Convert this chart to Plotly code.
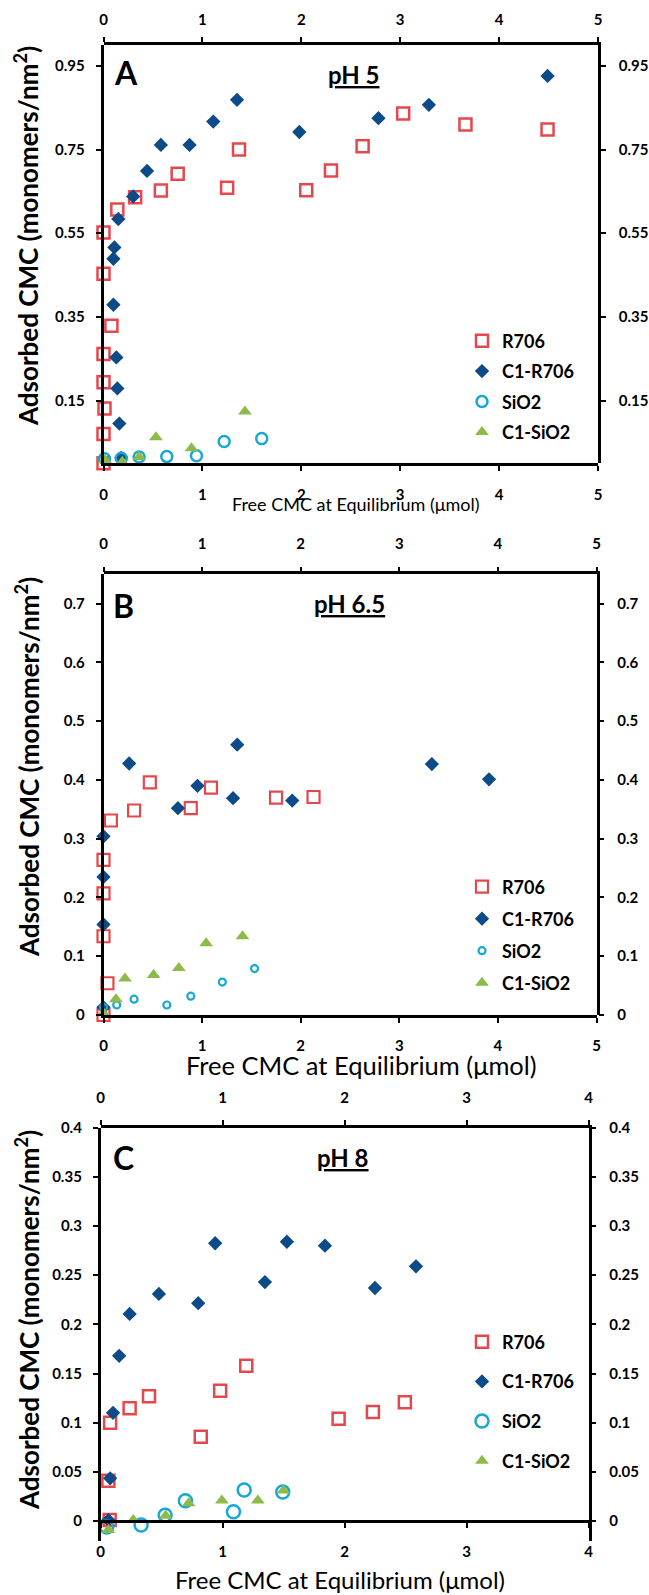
import plotly.graph_objects as go

W, H = 649, 1595
FONT = "Lato"

RED = "#E5484C"
BLUE = "#0C4A88"
CYAN = "#19A8D2"
GREEN = "#8CBB4B"

series_names = ["R706", "C1-R706", "SiO2", "C1-SiO2"]

# ---------------- Panel A (pH 5) ----------------
A_R706_x = [0.0, 0.0, 0.01, 0.0, 0.0, 0.08, 0.0, 0.0, 0.14, 0.32, 0.58, 0.75, 1.25, 1.37, 2.05, 2.30, 2.62, 3.03, 3.66, 4.49]
A_R706_y = [0.0, 0.07, 0.131, 0.194, 0.261, 0.329, 0.453, 0.552, 0.607, 0.636, 0.652, 0.692, 0.659, 0.75, 0.653, 0.70, 0.758, 0.836, 0.81, 0.798]
A_C1R706_x = [0.18, 0.16, 0.14, 0.13, 0.10, 0.10, 0.11, 0.15, 0.30, 0.44, 0.58, 0.87, 1.11, 1.35, 1.98, 2.78, 3.29, 4.49]
A_C1R706_y = [0.013, 0.095, 0.179, 0.253, 0.379, 0.489, 0.516, 0.584, 0.638, 0.699, 0.761, 0.761, 0.817, 0.869, 0.792, 0.825, 0.857, 0.926]
A_SiO2_x = [0.01, 0.18, 0.36, 0.64, 0.94, 1.22, 1.60]
A_SiO2_y = [0.011, 0.012, 0.015, 0.016, 0.018, 0.052, 0.059]
A_C1SiO2_x = [0.015, 0.19, 0.36, 0.53, 0.89, 1.43]
A_C1SiO2_y = [0.008, 0.004, 0.015, 0.062, 0.036, 0.124]

# ---------------- Panel B (pH 6.5) ----------------
B_R706_x = [0.0, 0.04, 0.0, 0.0, 0.0, 0.075, 0.31, 0.47, 0.885, 1.09, 1.75, 2.13]
B_R706_y = [0.0, 0.054, 0.134, 0.207, 0.264, 0.331, 0.348, 0.396, 0.352, 0.387, 0.370, 0.371]
B_C1R706_x = [0.0, 0.0, 0.0, 0.0, 0.26, 0.755, 0.953, 1.314, 1.356, 1.914, 3.33, 3.91]
B_C1R706_y = [0.013, 0.154, 0.235, 0.304, 0.428, 0.352, 0.390, 0.369, 0.460, 0.365, 0.427, 0.401]
B_SiO2_x = [0.0, 0.134, 0.31, 0.642, 0.885, 1.205, 1.532]
B_SiO2_y = [0.013, 0.017, 0.027, 0.017, 0.032, 0.056, 0.079]
B_C1SiO2_x = [0.0, 0.126, 0.218, 0.508, 0.764, 1.041, 1.41]
B_C1SiO2_y = [0.003, 0.027, 0.062, 0.068, 0.080, 0.122, 0.134]

# ---------------- Panel C (pH 8) ----------------
C_R706_x = [0.074, 0.064, 0.078, 0.238, 0.397, 0.821, 0.98, 1.194, 1.951, 2.232, 2.494]
C_R706_y = [0.001, 0.041, 0.100, 0.1146, 0.127, 0.0858, 0.1326, 0.158, 0.104, 0.111, 0.1207]
C_C1R706_x = [0.064, 0.078, 0.102, 0.152, 0.238, 0.478, 0.80, 0.939, 1.347, 1.527, 1.839, 2.249, 2.585]
C_C1R706_y = [0.001, 0.0434, 0.110, 0.168, 0.2106, 0.231, 0.2215, 0.2825, 0.243, 0.284, 0.280, 0.237, 0.259]
C_SiO2_x = [0.05, 0.332, 0.529, 0.695, 1.089, 1.177, 1.493]
C_SiO2_y = [-0.006, -0.004, 0.006, 0.0207, 0.0095, 0.0315, 0.0295]
C_C1SiO2_x = [0.064, 0.268, 0.533, 0.722, 0.994, 1.289, 1.499]
C_C1SiO2_y = [-0.009, 0.001, 0.0054, 0.018, 0.021, 0.021, 0.031]

# tick labels
A_xticks = [0, 1, 2, 3, 4, 5]
A_yticks = [0.15, 0.35, 0.55, 0.75, 0.95]
B_xticks = [0, 1, 2, 3, 4, 5]
B_yticks = [0, 0.1, 0.2, 0.3, 0.4, 0.5, 0.6, 0.7]
C_xticks = [0, 1, 2, 3, 4]
C_yticks = [0, 0.05, 0.1, 0.15, 0.2, 0.25, 0.3, 0.35, 0.4]

panels = [
    dict(letter="A", ph="pH 5",
         data=[(A_R706_x, A_R706_y), (A_C1R706_x, A_C1R706_y), (A_SiO2_x, A_SiO2_y), (A_C1SiO2_x, A_C1SiO2_y)],
         xr=[0, 5], yr=[0, 1.0], xt=A_xticks, yt=A_yticks,
         px=(103.5, 598), py=(45, 463.3), sizes=[12, 11, 11, 12], lw=2.5,
         leg_x=462, leg_y=322.5, leg_gap=4, top_so=6, bot_so=11, left_so=8, right_so=10,
         letter_pos=(126, 73), ph_pos=(354, 74),
         ytitle_pos=(27, 236), xtitle_pos=(356, 504), xtitle_size=18),
    dict(letter="B", ph="pH 6.5",
         data=[(B_R706_x, B_R706_y), (B_C1R706_x, B_C1R706_y), (B_SiO2_x, B_SiO2_y), (B_C1SiO2_x, B_C1SiO2_y)],
         xr=[0, 5], yr=[0, 0.75], xt=B_xticks, yt=B_yticks,
         px=(103.5, 596.5), py=(574.3, 1015), sizes=[12, 11, 7, 12], lw=2.2,
         leg_x=462, leg_y=868.5, leg_gap=5.6, top_so=12, bot_so=10, left_so=8, right_so=10,
         letter_pos=(123, 605), ph_pos=(349, 603),
         ytitle_pos=(27, 767), xtitle_pos=(361, 1065), xtitle_size=25.5),
    dict(letter="C", ph="pH 8",
         data=[(C_R706_x, C_R706_y), (C_C1R706_x, C_C1R706_y), (C_SiO2_x, C_SiO2_y), (C_C1SiO2_x, C_C1SiO2_y)],
         xr=[0, 4], yr=[-0.02, 0.4], xt=C_xticks, yt=C_yticks,
         px=(100.6, 588.6), py=(1127.7, 1540.7), sizes=[12, 11, 13, 12], lw=2.5,
         leg_x=462, leg_y=1323.5, leg_gap=13.3, top_so=11, bot_so=11, left_so=8, right_so=10,
         letter_pos=(123, 1157), ph_pos=(343, 1157),
         ytitle_pos=(27, 1320), xtitle_pos=(340, 1579), xtitle_size=24),
]

fig = go.Figure()
layout = dict(
    width=W, height=H, autosize=False,
    margin=dict(l=0, r=0, t=0, b=0, autoexpand=False),
    paper_bgcolor="white", plot_bgcolor="rgba(0,0,0,0)",
    font=dict(family=FONT, color="black"),
    annotations=[],
)

def fx(px):
    return px / W

def fy(py):
    return 1 - py / H

tickfont = dict(family=FONT, size=15, color="black", weight="bold")
axis_common = dict(showgrid=False, zeroline=False, showline=True, linecolor="black",
                   linewidth=2.5, ticks="outside", ticklen=5, tickwidth=2, tickcolor="black",
                   tickfont=tickfont, automargin=False)

symbols = ["square-open", "diamond", "circle-open", "triangle-up"]
colors = [RED, BLUE, CYAN, GREEN]

for i, p in enumerate(panels):
    n = 2 * i + 1
    xa, ya = f"x{'' if n == 1 else n}", f"y{'' if n == 1 else n}"
    xb, yb = f"x{n+1}", f"y{n+1}"
    xa_key, ya_key = f"xaxis{'' if n == 1 else n}", f"yaxis{'' if n == 1 else n}"
    xb_key, yb_key = f"xaxis{n+1}", f"yaxis{n+1}"
    dx = [fx(p["px"][0]), fx(p["px"][1])]
    dy = [fy(p["py"][1]), fy(p["py"][0])]
    leg = "legend" if i == 0 else f"legend{i+1}"

    # companion subplot carrying the top and right axes on the same domain
    fig.add_trace(go.Scatter(x=[None], y=[None], xaxis=xb, yaxis=yb, showlegend=False,
                             hoverinfo="skip", mode="markers"))
    for k, (sx, sy) in enumerate(p["data"]):
        fig.add_trace(go.Scatter(
            x=sx, y=sy, mode="markers", name=series_names[k],
            xaxis=xa, yaxis=ya, legend=leg, legendgroup=f"{i}-{k}",
            cliponaxis=False,
            marker=dict(symbol=symbols[k], color=colors[k], size=p["sizes"][k],
                        line=dict(width=p["lw"] if symbols[k].endswith("open") else 0, color=colors[k])),
        ))

    xbot = dict(axis_common, domain=dx, range=p["xr"], tickvals=p["xt"], anchor=ya,
                side="bottom", ticklabelstandoff=p["bot_so"])
    if p["yr"][0] < 0:
        frac = (0 - p["yr"][0]) / (p["yr"][1] - p["yr"][0])
        xbot.update(anchor="free", position=dy[0] + frac * (dy[1] - dy[0]))
    layout[xa_key] = xbot
    layout[xb_key] = dict(axis_common, domain=dx, range=p["xr"], tickvals=p["xt"],
                          anchor=yb, side="top", ticklabelstandoff=p["top_so"])
    layout[ya_key] = dict(axis_common, domain=dy, range=p["yr"], tickvals=p["yt"], anchor=xa,
                          side="left", ticklabelstandoff=p["left_so"])
    layout[yb_key] = dict(axis_common, domain=dy, range=p["yr"], tickvals=p["yt"],
                          anchor=xb, side="right", ticklabelstandoff=p["right_so"])

    layout[leg] = dict(x=fx(p["leg_x"]), y=fy(p["leg_y"]), xanchor="left", yanchor="top",
                       bgcolor="rgba(0,0,0,0)", traceorder="grouped", tracegroupgap=p["leg_gap"],
                       font=dict(family=FONT, size=18, color="black", weight="bold"))

    ann = layout["annotations"]
    ann.append(dict(text=f"<b>{p['letter']}</b>", x=fx(p["letter_pos"][0]), y=fy(p["letter_pos"][1]),
                    xref="paper", yref="paper", showarrow=False, xanchor="center", yanchor="middle",
                    font=dict(family=FONT, size=32, color="black")))
    ann.append(dict(text=f"<b><u>{p['ph']}</u></b>", x=fx(p["ph_pos"][0]), y=fy(p["ph_pos"][1]),
                    xref="paper", yref="paper", showarrow=False, xanchor="center", yanchor="middle",
                    font=dict(family=FONT, size=24, color="black")))
    ann.append(dict(text="<b>Adsorbed CMC (monomers/nm<sup>2</sup>)</b>", textangle=-90,
                    x=fx(p["ytitle_pos"][0]), y=fy(p["ytitle_pos"][1]),
                    xref="paper", yref="paper", showarrow=False, xanchor="center", yanchor="middle",
                    font=dict(family=FONT, size=26, color="black")))
    ann.append(dict(text="Free CMC at Equilibrium (\u03bcmol)",
                    x=fx(p["xtitle_pos"][0]), y=fy(p["xtitle_pos"][1]),
                    xref="paper", yref="paper", showarrow=False, xanchor="center", yanchor="middle",
                    font=dict(family=FONT, size=p["xtitle_size"], color="black")))

fig.update_layout(**layout)
fig.write_html("out.html")
